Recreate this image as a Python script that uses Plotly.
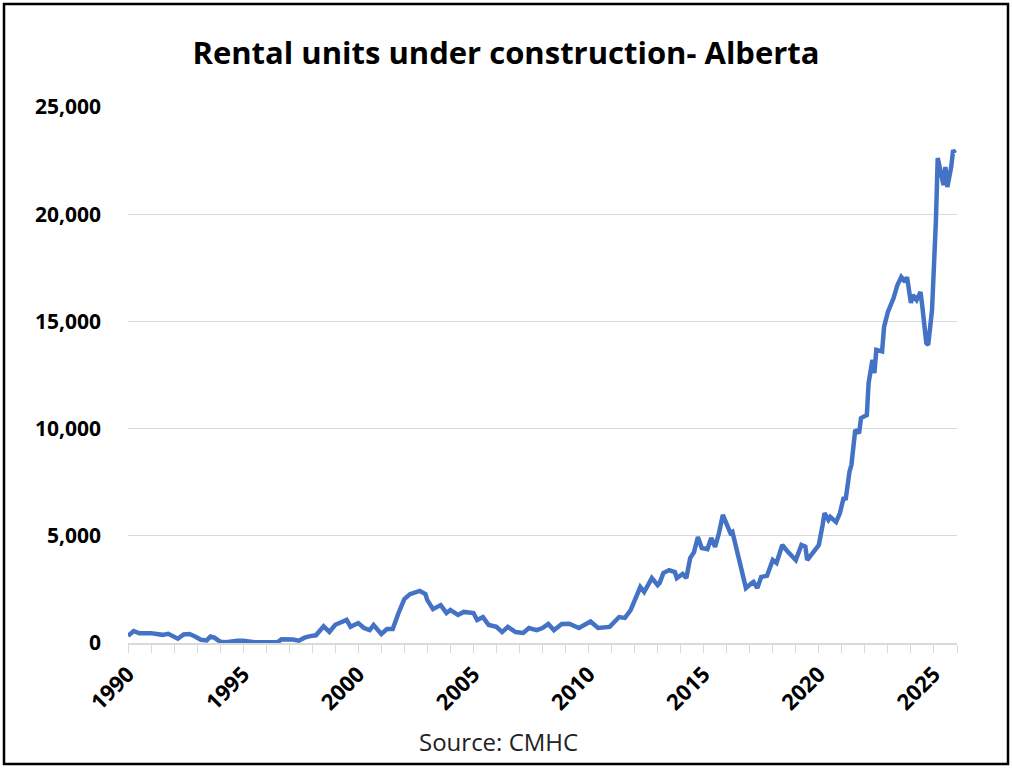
import plotly.graph_objects as go

# monthly points (units under construction)
dates = [
    "1990-01", "1990-04", "1990-07", "1990-10", "1991-01", "1991-04", "1991-07", "1991-10",
    "1992-01", "1992-03", "1992-06", "1992-09", "1992-12", "1993-03", "1993-06", "1993-08",
    "1993-10", "1994-01", "1994-04", "1994-07", "1994-10", "1995-01", "1995-04", "1995-07",
    "1995-10", "1996-01", "1996-04", "1996-07", "1996-09", "1996-12", "1997-03", "1997-06",
    "1997-09", "1997-12", "1998-03", "1998-07", "1998-10", "1999-01", "1999-04", "1999-07",
    "1999-09", "2000-01", "2000-04", "2000-07", "2000-09", "2001-01", "2001-04", "2001-07",
    "2001-10", "2002-01", "2002-04", "2002-07", "2002-09", "2002-12", "2003-01", "2003-04",
    "2003-08", "2003-11", "2004-01", "2004-05", "2004-08", "2005-01", "2005-03", "2005-06",
    "2005-09", "2006-01", "2006-04", "2006-07", "2006-11", "2007-03", "2007-06", "2007-10",
    "2008-01", "2008-04", "2008-07", "2008-11", "2009-03", "2009-08", "2010-02", "2010-06",
    "2010-12", "2011-05", "2011-08", "2011-11", "2012-01", "2012-04", "2012-06", "2012-10",
    "2013-01", "2013-02", "2013-04", "2013-07", "2013-10", "2013-11", "2014-02", "2014-04",
    "2014-06", "2014-08", "2014-10", "2014-12", "2015-03", "2015-05", "2015-07", "2015-09",
    "2015-11", "2016-01", "2016-03", "2016-04", "2016-06", "2016-07", "2016-11", "2017-02",
    "2017-03", "2017-05", "2017-07", "2017-10", "2018-01", "2018-03", "2018-06", "2018-09",
    "2019-01", "2019-04", "2019-06", "2019-07", "2019-10", "2020-01", "2020-03", "2020-04",
    "2020-06", "2020-07", "2020-10", "2020-12", "2021-02", "2021-03", "2021-05", "2021-06",
    "2021-08", "2021-10", "2021-11", "2022-02", "2022-03", "2022-05", "2022-06", "2022-07",
    "2022-10", "2022-11", "2023-01", "2023-03", "2023-04", "2023-06", "2023-08", "2023-10",
    "2023-11", "2024-01", "2024-02", "2024-04", "2024-06", "2024-07", "2024-09", "2024-10",
    "2024-12", "2025-02", "2025-03", "2025-04", "2025-06", "2025-07", "2025-08", "2025-10",
    "2025-11", "2025-12",
]
units = [
    330, 560, 450, 480, 460, 420, 380, 430,
    300, 200, 400, 420, 300, 150, 120, 300,
    250, 60, 40, 100, 110, 100, 50, 40,
    30, 30, 30, 40, 170, 180, 160, 110,
    250, 320, 360, 780, 520, 850, 950, 1080,
    760, 930, 700, 600, 840, 420, 650, 650,
    1400, 2050, 2280, 2350, 2430, 2280, 2000, 1580,
    1770, 1400, 1540, 1310, 1450, 1400, 1070, 1210,
    840, 750, 510, 750, 510, 470, 700, 600,
    700, 890, 600, 890, 900, 700, 1000, 700,
    750, 1210, 1170, 1540, 2000, 2610, 2380, 3030,
    2700, 2800, 3260, 3400, 3310, 3030, 3220, 3030,
    3960, 4240, 4940, 4430, 4380, 4900, 4480, 5130,
    5970, 5500, 5130, 5180, 4480, 4010, 2560, 2800,
    2850, 2560, 3080, 3130, 3870, 3730, 4570, 4240,
    3870, 4570, 4500, 3870, 4200, 4570, 5500, 6060,
    5740, 5880, 5640, 6060, 6810, 6670, 7980, 8300,
    9930, 9790, 10490, 10630, 12130, 13200, 12590, 13670,
    13600, 14740, 15440, 15860, 16090, 16700, 17070, 16840,
    17070, 15860, 16230, 16000, 16370, 15670, 13990, 13900,
    15530, 19730, 22620, 22200, 21360, 22200, 21270, 22200,
    22990, 22850,
]

title = "Rental units under construction- Alberta"
source = "Source: CMHC"
grey = "#d9d9d9"

fig = go.Figure()
fig.add_trace(go.Scatter(x=dates, y=units, mode="lines",
                         line=dict(color="#4472C4", width=4.5)))

fig.update_layout(
    width=1012, height=768,
    margin=dict(l=128, r=55, t=107, b=125),
    paper_bgcolor="white", plot_bgcolor="white",
    showlegend=False,
    font=dict(family="Open Sans", color="black"),
    title=dict(text=title, x=0.5, xref="container", y=1 - 53 / 768, yref="container",
               yanchor="middle", xanchor="center",
               font=dict(size=31, weight="bold", color="black")),
)

fig.update_xaxes(
    type="date", range=["1990-01-01", "2026-01-01"],
    tick0="1990-01-01", dtick="M60", tickformat="%Y", tickangle=-45,
    ticks="outside", ticklen=8, tickcolor=grey,
    minor=dict(dtick="M12", ticks="outside", ticklen=8, tickcolor=grey, showgrid=False),
    showline=True, linecolor=grey, linewidth=1.5, showgrid=False,
    tickfont=dict(size=22, weight="bold", color="black"),
)
fig.update_yaxes(
    range=[0, 25000], dtick=5000, tickformat=",",
    showgrid=True, gridcolor=grey, gridwidth=1.2, zeroline=False, showline=False,
    ticklabelstandoff=26,
    tickfont=dict(size=21, weight="bold", color="black"),
)

fig.add_annotation(text=source, x=(498 - 128) / 829, y=(643 - 741) / 536,
                   xref="paper", yref="paper", showarrow=False,
                   xanchor="center", yanchor="middle",
                   font=dict(size=24, color="#222222"))

# black frame around the whole picture
fig.add_shape(type="rect", xref="paper", yref="paper",
              x0=(4 - 128) / 829, x1=(1008 - 128) / 829,
              y0=(643 - 764) / 536, y1=(643 - 4) / 536,
              line=dict(color="black", width=2.5))

fig.write_html("out.html", config={"displayModeBar": False},
               post_script="document.body.style.margin = '0';")
